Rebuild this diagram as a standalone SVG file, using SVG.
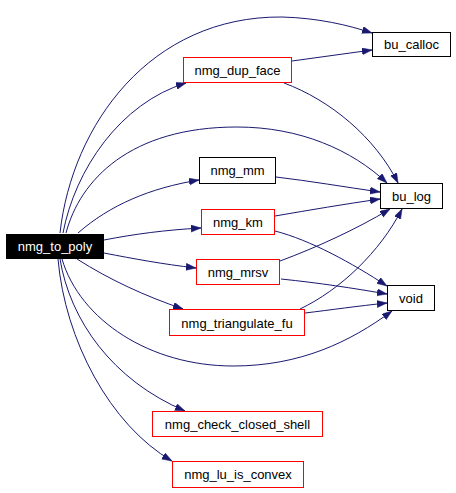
<svg xmlns="http://www.w3.org/2000/svg" width="456" height="493" viewBox="0 0 456 493">
<style>
.n rect{fill:#fff;stroke:#000;stroke-width:1}
.n.r rect{stroke:#f00}
.n text{font-family:"Liberation Sans",Arial,sans-serif;font-size:13px;text-anchor:middle;fill:#000}
#nmg_to_poly rect{fill:#000;stroke:#000}
#nmg_to_poly text{fill:#fff}
.e path{fill:none;stroke:#191970;stroke-width:1;marker-end:url(#ah)}
</style>
<defs>
<marker id="ah" markerUnits="userSpaceOnUse" markerWidth="11" markerHeight="8" refX="10" refY="3.5" orient="auto">
<path d="M0,0 L10,3.5 L0,7 z" fill="#191970" stroke="#191970" stroke-width="0.5"/>
</marker>
</defs>
<rect width="456" height="493" fill="#fff"/>
<g id="edges" class="e">
<path d="M60,233 C72,125 150,16 282,17 C318,18 348,25 372,33"/>
<path d="M63,233 C75,170 120,103 186,83"/>
<path d="M66,233 C80,180 130,127 237,127 C300,127 352,150 387,183"/>
<path d="M78,233 C110,205 150,188 199,180"/>
<path d="M104,240 C135,234 165,230 201,228"/>
<path d="M104,253 C135,259 162,264 196,268"/>
<path d="M77,259 C110,280 145,296 183,309"/>
<path d="M62,259 C80,320 150,366 233,366 C300,366 350,342 392,311"/>
<path d="M60,259 C70,320 112,380 185,411"/>
<path d="M58,259 C65,340 110,425 172,461"/>
<path d="M292,61 L372,50"/>
<path d="M284,83 C330,100 375,137 398,183"/>
<path d="M276,177 C310,181 345,187 380,192"/>
<path d="M275,216 C310,210 345,204 380,199"/>
<path d="M275,231 C310,240 352,263 387,286"/>
<path d="M280,261 C315,248 355,230 390,209"/>
<path d="M281,279 C320,283 352,288 387,294"/>
<path d="M300,309 C340,290 380,252 402,209"/>
<path d="M305,313 C330,310 358,306 387,303"/>
</g>
<g id="nmg_to_poly" class="n"><rect x="6.5" y="234.5" width="97" height="24"/><text x="55" y="251">nmg_to_poly</text></g>
<g id="bu_calloc" class="n"><rect x="372.5" y="32.5" width="78" height="24"/><text x="411.5" y="49">bu_calloc</text></g>
<g id="nmg_dup_face" class="n r"><rect x="183.5" y="57.5" width="108" height="25"/><text x="237.5" y="74.5">nmg_dup_face</text></g>
<g id="nmg_mm" class="n"><rect x="199.5" y="157.5" width="76" height="26"/><text x="237.5" y="175">nmg_mm</text></g>
<g id="bu_log" class="n"><rect x="380.5" y="183.5" width="62" height="25"/><text x="411.5" y="200.5">bu_log</text></g>
<g id="nmg_km" class="n r"><rect x="201.5" y="209.5" width="73" height="25"/><text x="238" y="226.5">nmg_km</text></g>
<g id="nmg_mrsv" class="n r"><rect x="196.5" y="259.5" width="83" height="25"/><text x="238" y="276.5">nmg_mrsv</text></g>
<g id="void" class="n"><rect x="387.5" y="285.5" width="47" height="25"/><text x="411" y="302.5">void</text></g>
<g id="nmg_triangulate_fu" class="n r"><rect x="169.5" y="309.5" width="135" height="26"/><text x="237" y="327.5">nmg_triangulate_fu</text></g>
<g id="nmg_check_closed_shell" class="n r"><rect x="152.5" y="411.5" width="170" height="25"/><text x="237.5" y="428.5">nmg_check_closed_shell</text></g>
<g id="nmg_lu_is_convex" class="n r"><rect x="172.5" y="461.5" width="131" height="26"/><text x="238" y="479">nmg_lu_is_convex</text></g>
</svg>
